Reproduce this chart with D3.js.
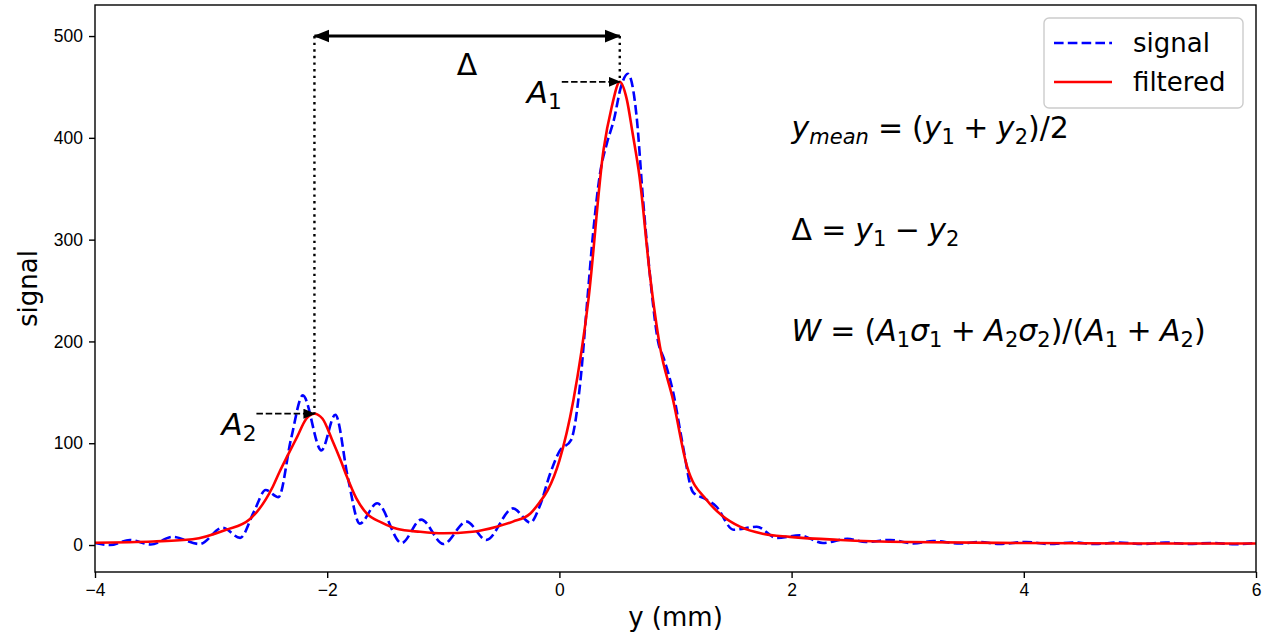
<!DOCTYPE html>
<html>
<head>
<meta charset="utf-8">
<script src="https://cdn.jsdelivr.net/npm/d3@7"></script>
<style>
  body { margin: 0; background: #fff; }
  svg { font-family: "DejaVu Sans", sans-serif; }
  .axis text { font-size: 17.5px; fill: #000; }
  .axis line { stroke: #000; stroke-width: 1.4px; }
</style>
</head>
<body>
<svg id="chart" width="1262" height="635"></svg>
<script>
// values

let signalX = [-4.00, -3.87, -3.70, -3.52, -3.33, -3.10, -2.90, -2.75, -2.63, -2.53,
  -2.42, -2.31, -2.21, -2.05, -1.93, -1.82, -1.72, -1.57, -1.36, -1.19,
  -1.00, -0.80, -0.63, -0.40, -0.25, -0.17, -0.08, 0.00, 0.10, 0.18,
  0.24, 0.29, 0.35, 0.41, 0.47, 0.53, 0.59, 0.665, 0.72, 0.78,
  0.85, 0.90, 0.98, 1.06, 1.15, 1.26, 1.35, 1.50, 1.70, 1.87,
  2.07, 2.27, 2.48, 2.64, 2.85, 3.05, 3.22, 3.45, 3.62, 3.79,
  4.02, 4.22, 4.42, 4.62, 4.82, 5.02, 5.22, 5.42, 5.62, 5.82, 6.00];
let signalY = [2, 0, 5, 0.5, 8, 1, 17, 7, 33, 54,
  47, 105, 147, 93, 128, 65, 21, 41, 2, 25,
  1, 23, 5, 36, 22, 38, 70, 92, 103, 160,
  240, 306, 365, 395, 418, 450, 463, 421, 340, 265,
  200, 183, 150, 100, 52, 45, 38, 15, 18, 7,
  9.5, 2, 6, 3, 5, 1.5, 4, 1.5, 3, 1,
  3, 1, 2.5, 1, 2.5, 1, 2.5, 1, 2, 0.8, 2];

let filteredX = [-4.00, -3.50, -3.16, -2.87, -2.67, -2.47, -2.41, -2.34, -2.26, -2.18,
  -2.11, -2.04, -1.96, -1.88, -1.83, -1.75, -1.66, -1.53, -1.40, -1.20,
  -1.00, -0.75, -0.54, -0.40, -0.25, -0.17, -0.10, 0.00, 0.12, 0.25,
  0.38, 0.45, 0.52, 0.58, 0.63, 0.69, 0.78, 0.866, 0.98, 1.10,
  1.27, 1.40, 1.555, 1.75, 1.985, 2.42, 3.0, 4.0, 5.0, 6.0];
let filteredY = [2.3, 3.5, 5.6, 15, 25, 57, 72, 88, 106, 124,
  129, 124, 104, 82, 67, 46, 31, 22, 16, 13,
  11.5, 13, 18, 23, 31, 42, 54, 83, 142, 241,
  388, 430, 455, 438, 405, 362, 265, 195, 142, 77,
  44, 29, 18, 11, 8, 5, 3, 2, 1.5, 1.5];

let xTicks = [-4, -2, 0, 2, 4, 6];
let yTicks = [0, 100, 200, 300, 400, 500];

// the two fitted peaks and the level of the separation arrow
let peakNames = ["1", "2"];
let peakX = [0.52, -2.11];
let peakY = [455, 129];
let arrowLevel = 500;

let seriesNames = ["signal", "filtered"];

// layout

let plotLeft = 95, plotRight = 1256, plotTop = 5, plotBottom = 572;
let lineWidth = 2.6;

let svg = d3.select("#chart");

let x = d3.scaleLinear()
    .domain([-4, 6])
    .range([plotLeft, plotRight]);

let y = d3.scaleLinear()
    .domain([-26.5, 530.5])
    .range([plotBottom, plotTop]);

// defs: clip and arrow heads
let defs = svg.append("defs");

defs.append("clipPath")
    .attr("id", "plot-clip")
  .append("rect")
    .attr("x", plotLeft)
    .attr("y", plotTop)
    .attr("width", plotRight - plotLeft)
    .attr("height", plotBottom - plotTop);

defs.append("marker")
    .attr("id", "big-head")
    .attr("viewBox", "0 -7 16 14")
    .attr("refX", 15)
    .attr("refY", 0)
    .attr("markerUnits", "userSpaceOnUse")
    .attr("markerWidth", 16)
    .attr("markerHeight", 14)
    .attr("orient", "auto-start-reverse")
  .append("path")
    .attr("d", "M0,-6.5L16,0L0,6.5Z")
    .attr("fill", "#000");

defs.append("marker")
    .attr("id", "small-head")
    .attr("viewBox", "0 -5 12 10")
    .attr("refX", 11)
    .attr("refY", 0)
    .attr("markerUnits", "userSpaceOnUse")
    .attr("markerWidth", 12)
    .attr("markerHeight", 10)
    .attr("orient", "auto")
  .append("path")
    .attr("d", "M0,-5L12,0L0,5Z")
    .attr("fill", "#000");

// AXES

svg.append("g")
    .attr("class", "axis")
    .attr("transform", `translate(0,${plotBottom})`)
    .call(d3.axisBottom(x).tickValues(xTicks).tickSize(6).tickPadding(6));

svg.append("g")
    .attr("class", "axis")
    .attr("transform", `translate(${plotLeft},0)`)
    .call(d3.axisLeft(y).tickValues(yTicks).tickSize(6).tickPadding(6));

svg.selectAll(".axis .domain").remove();

// LINES

let plot = svg.append("g")
    .attr("clip-path", "url(#plot-clip)");

let line = d3.line()
    .x(d => x(d[0]))
    .y(d => y(d[1]))
    .curve(d3.curveMonotoneX);

plot.append("path")
    .datum(d3.zip(signalX, signalY))
    .attr("fill", "none")
    .attr("stroke", "#0000ff")
    .attr("stroke-width", lineWidth)
    .attr("stroke-dasharray", "9.6,4.2")
    .attr("d", line);

plot.append("path")
    .datum(d3.zip(filteredX, filteredY))
    .attr("fill", "none")
    .attr("stroke", "#ff0000")
    .attr("stroke-width", lineWidth)
    .attr("d", line);

// ANNOTATIONS

let notes = svg.append("g");

// dotted drop lines from the arrow to each peak
peakX.forEach((px, i) => {
  notes.append("line")
      .attr("x1", x(px))
      .attr("x2", x(px))
      .attr("y1", y(arrowLevel))
      .attr("y2", y(peakY[i]))
      .attr("stroke", "#000")
      .attr("stroke-width", 2.4)
      .attr("stroke-dasharray", "2.4,4.2");
});

// separation arrow
notes.append("line")
    .attr("x1", x(peakX[1]))
    .attr("x2", x(peakX[0]))
    .attr("y1", y(arrowLevel))
    .attr("y2", y(arrowLevel))
    .attr("stroke", "#000")
    .attr("stroke-width", 3)
    .attr("marker-start", "url(#big-head)")
    .attr("marker-end", "url(#big-head)");

notes.append("text")
    .attr("x", x((peakX[0] + peakX[1]) / 2))
    .attr("y", y(arrowLevel) + 39)
    .attr("text-anchor", "middle")
    .style("font-size", "30px")
    .text("\u0394");

// amplitude arrows
peakX.forEach((px, i) => {
  let tx = x(px) - 58;
  notes.append("line")
      .attr("x1", tx)
      .attr("x2", x(px))
      .attr("y1", y(peakY[i]))
      .attr("y2", y(peakY[i]))
      .attr("stroke", "#000")
      .attr("stroke-width", 1.8)
      .attr("stroke-dasharray", "6.5,2.8")
      .attr("marker-end", "url(#small-head)");

  mathText(notes, tx - 35, y(peakY[i]) + 21, 31, [
    {t: "A", it: true},
    {t: peakNames[i], sub: true}
  ]);
});

// formulas
let thick = 0.3, med = 0.28;

mathText(notes, x(2), y(400), 30, [
  {t: "y", it: true},
  {t: "mean", it: true, sub: true},
  {t: "=", sp: thick},
  {t: "(", sp: thick},
  {t: "y", it: true},
  {t: "1", sub: true},
  {t: "+", sp: med},
  {t: "y", it: true, sp: med},
  {t: "2", sub: true},
  {t: ")/2"}
]);

mathText(notes, x(2), y(300), 30, [
  {t: "\u0394"},
  {t: "=", sp: thick},
  {t: "y", it: true, sp: thick},
  {t: "1", sub: true},
  {t: "\u2212", sp: med},
  {t: "y", it: true, sp: med},
  {t: "2", sub: true}
]);

mathText(notes, x(2), y(200), 30, [
  {t: "W", it: true},
  {t: "=", sp: thick},
  {t: "(", sp: thick},
  {t: "A", it: true},
  {t: "1", sub: true},
  {t: "\u03c3", it: true},
  {t: "1", sub: true},
  {t: "+", sp: med},
  {t: "A", it: true, sp: med},
  {t: "2", sub: true},
  {t: "\u03c3", it: true},
  {t: "2", sub: true},
  {t: ")/("},
  {t: "A", it: true},
  {t: "1", sub: true},
  {t: "+", sp: med},
  {t: "A", it: true, sp: med},
  {t: "2", sub: true},
  {t: ")"}
]);

// FRAME

svg.append("rect")
    .attr("x", plotLeft)
    .attr("y", plotTop)
    .attr("width", plotRight - plotLeft)
    .attr("height", plotBottom - plotTop)
    .attr("fill", "none")
    .attr("stroke", "#000")
    .attr("stroke-width", 1.4);

// axis labels
svg.append("text")
    .attr("x", (plotLeft + plotRight) / 2)
    .attr("y", 626)
    .attr("text-anchor", "middle")
    .style("font-size", "26px")
    .text("y (mm)");

svg.append("text")
    .attr("transform", `translate(37,${(plotTop + plotBottom) / 2}) rotate(-90)`)
    .attr("text-anchor", "middle")
    .style("font-size", "26px")
    .text("signal");

// LEGEND

let legend = svg.append("g")
    .attr("transform", "translate(1044,18)");

legend.append("rect")
    .attr("width", 199)
    .attr("height", 90)
    .attr("rx", 5)
    .attr("fill", "#fff")
    .attr("fill-opacity", 0.8)
    .attr("stroke", "#cccccc")
    .attr("stroke-width", 1.4);

let legendStyles = [
  {color: "#0000ff", dash: "9.6,4.2"},
  {color: "#ff0000", dash: null}
];

seriesNames.forEach((name, i) => {
  let row = legend.append("g")
      .attr("transform", `translate(0,${25 + i * 39})`);

  row.append("line")
      .attr("x1", 10)
      .attr("x2", 68)
      .attr("stroke", legendStyles[i].color)
      .attr("stroke-width", lineWidth)
      .attr("stroke-dasharray", legendStyles[i].dash);

  row.append("text")
      .attr("x", 89)
      .attr("y", 9)
      .style("font-size", "26px")
      .text(name);
});

// mathtext-like runs: italic letters and lowered subscripts
function mathText(g, tx, ty, size, tokens) {
  let text = g.append("text")
      .attr("x", tx)
      .attr("y", ty)
      .style("font-size", size + "px");

  let shift = 0;
  let drop = size * 0.2;

  tokens.forEach(tok => {
    let span = text.append("tspan").text(tok.t);
    let dy = tok.sub ? drop - shift : -shift;
    shift = tok.sub ? drop : 0;
    if (dy) span.attr("dy", dy);
    if (tok.sub) span.style("font-size", (size * 0.7) + "px");
    if (tok.it) span.style("font-style", "italic");
    if (tok.sp) span.attr("dx", tok.sp * size);
  });

  return text;
}
</script>
</body>
</html>
